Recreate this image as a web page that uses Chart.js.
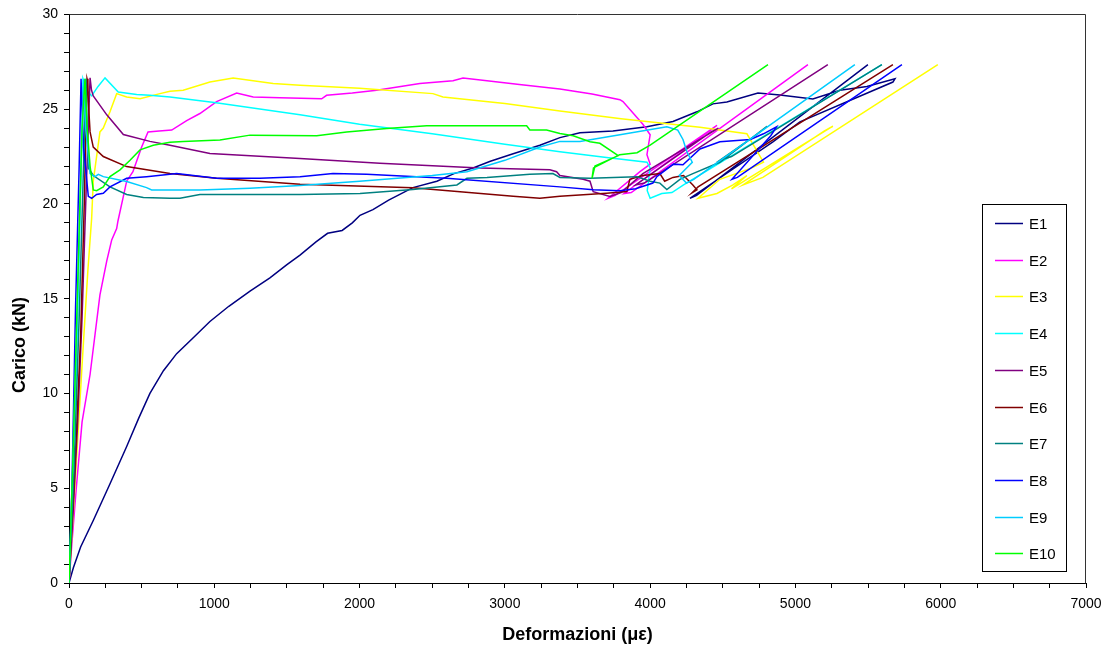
<!DOCTYPE html>
<html lang="it">
<head>
<meta charset="UTF-8" />
<title>Carico - Deformazioni</title>
<style>
  body { margin: 0; background: #fff; }
  canvas { display: block; }
</style>
</head>
<body>
<canvas id="myChart" width="1113" height="652"></canvas>

<script src="https://cdn.jsdelivr.net/npm/chart.js@4.4.0/dist/chart.umd.min.js"></script>
<script>
// series: [deformazione (με), carico (kN)]
var E1 = [[0,0],[30,0.8],[80,1.9],[167,3.3],[280,5.2],[397,7.2],[480,8.7],[557,10.0],[650,11.2],[741,12.1],[850,12.9],[970,13.8],[1100,14.6],[1246,15.4],[1383,16.1],[1500,16.8],[1590,17.3],[1700,18.0],[1780,18.45],[1880,18.6],[1950,19.0],[2003,19.4],[2092,19.7],[2200,20.2],[2367,20.86],[2532,21.2],[2650,21.6],[2781,21.9],[2900,22.25],[3057,22.65],[3241,23.1],[3379,23.5],[3517,23.75],[3744,23.85],[3978,24.07],[4157,24.35],[4322,24.86],[4432,25.28],[4528,25.38],[4742,25.85],[4893,25.75],[5120,25.54],[5306,26.0],[5492,26.2],[5685,26.6],[5671,26.43],[5031,24.33],[4845,23.28],[4274,20.3],[4320,20.45],[5499,27.35]];
var E2 = [[0,0],[18,1.9],[50,5],[90,8.5],[145,11.0],[213,15.2],[260,17.0],[294,18.1],[328,18.7],[337,19.1],[397,21.2],[440,21.7],[500,23.0],[544,23.8],[620,23.85],[707,23.9],[810,24.4],[901,24.77],[1016,25.4],[1154,25.85],[1268,25.64],[1452,25.6],[1739,25.55],[1773,25.73],[1950,25.85],[2118,26.0],[2415,26.35],[2643,26.5],[2712,26.64],[2877,26.5],[3100,26.3],[3379,26.06],[3600,25.8],[3792,25.5],[3813,25.4],[3950,24.2],[4000,23.65],[3978,22.6],[4000,22.1],[3930,21.7],[3710,20.3],[3760,20.45],[4460,24.15],[4420,23.9],[3820,20.55],[3870,20.6],[5086,27.35]];
var E3 = [[0,0],[40,5],[90,11.5],[130,16.5],[156,19.25],[167,21.2],[213,23.8],[236,24.0],[282,24.86],[328,25.82],[397,25.64],[489,25.55],[626,25.82],[695,25.94],[786,26.0],[970,26.43],[1130,26.64],[1405,26.35],[1590,26.26],[2000,26.1],[2505,25.82],[2574,25.64],[3000,25.3],[3379,24.9],[3800,24.5],[4343,24.05],[4666,23.7],[4780,22.2],[4700,21.9],[4480,21.3],[4330,20.3],[4460,20.55],[4570,21.0],[4666,21.5],[4560,20.8],[5258,24.1],[5200,23.85],[4640,21.0],[4776,21.4],[5980,27.35]];
var E4 = [[0,0],[20,4],[50,11],[75,19],[96,26.6],[120,26.0],[156,25.7],[200,26.2],[248,26.65],[339,25.9],[466,25.77],[557,25.73],[695,25.64],[1000,25.35],[1590,24.7],[2000,24.2],[2500,23.7],[3000,23.15],[3379,22.75],[3700,22.45],[3978,22.2],[4000,21.9],[3980,20.7],[4000,20.3],[4080,20.55],[4150,20.6],[4230,21.0],[5595,27.35]];
var E5 = [[0,0],[30,4],[60,8.5],[90,14],[115,20],[135,24.5],[145,26.65],[155,26.0],[167,25.7],[260,24.7],[374,23.66],[557,23.3],[695,23.1],[970,22.66],[1590,22.4],[2139,22.14],[2829,21.9],[3310,21.8],[3356,21.7],[3379,21.5],[3539,21.3],[3586,21.2],[3608,20.65],[3723,20.4],[3800,20.6],[3950,21.6],[4470,24.0],[4420,23.8],[3900,21.0],[3960,21.1],[5223,27.35]];
var E6 = [[0,0],[40,6],[80,13],[105,20],[124,26.6],[130,26.4],[133,25.4],[145,23.8],[167,23.0],[236,22.5],[397,21.97],[695,21.6],[1016,21.35],[1590,21.04],[2367,20.86],[3057,20.4],[3241,20.3],[3379,20.4],[3700,20.56],[3840,20.65],[3860,21.3],[3950,21.5],[4067,21.6],[4100,21.2],[4157,21.4],[4230,21.5],[4294,21.0],[4322,20.75],[4290,20.6],[4330,20.9],[5671,27.35]];
var E7 = [[0,0],[35,6],[70,14],[100,22],[117,26.6],[125,24],[133,21.9],[167,21.5],[282,20.9],[397,20.5],[512,20.34],[695,20.3],[764,20.3],[901,20.5],[1246,20.5],[1590,20.5],[2003,20.55],[2367,20.76],[2670,21.0],[2739,21.35],[2877,21.4],[3172,21.56],[3331,21.6],[3379,21.4],[3586,21.35],[3909,21.44],[4000,21.2],[4067,21.1],[4115,20.76],[4205,21.3],[4294,21.6],[4480,22.2],[4804,24.1],[4740,23.7],[4480,22.3],[4560,22.5],[5595,27.35]];
var E8 = [[0,0],[20,5],[45,14.5],[70,22],[83,26.6],[100,23],[133,20.4],[156,20.3],[190,20.5],[236,20.56],[282,20.9],[397,21.35],[534,21.44],[695,21.56],[741,21.6],[1016,21.35],[1314,21.35],[1590,21.44],[1817,21.6],[2049,21.56],[2599,21.35],[3379,20.9],[3608,20.75],[3792,20.7],[3900,20.8],[4019,21.1],[4046,21.44],[4160,22.1],[4226,22.07],[4343,22.9],[4480,23.28],[4690,23.4],[4780,23.7],[4870,24.07],[4830,23.6],[4563,21.3],[4600,21.4],[5733,27.35]];
var E9 = [[0,0],[25,6],[55,14],[80,21],[103,26.6],[115,24],[145,21.6],[179,21.44],[202,21.56],[236,21.44],[397,21.18],[534,20.86],[569,20.74],[695,20.74],[901,20.74],[1246,20.83],[1590,20.97],[2000,21.2],[2500,21.5],[2739,21.7],[3000,22.3],[3241,23.0],[3379,23.3],[3517,23.3],[3792,23.65],[4115,24.07],[4190,23.9],[4226,23.4],[4253,22.75],[4290,22.2],[4200,21.5],[4250,21.1],[4300,21.3],[5409,27.35]];
var E10 = [[0,0],[25,6],[50,13],[75,20],[90,24],[110,26.6],[125,24],[145,22.0],[167,20.74],[190,20.7],[236,20.9],[282,21.44],[351,21.8],[420,22.3],[489,22.85],[580,23.1],[695,23.25],[786,23.3],[1039,23.37],[1246,23.63],[1705,23.6],[1911,23.8],[2187,23.98],[2462,24.12],[3150,24.12],[3172,23.9],[3287,23.9],[3379,23.72],[3470,23.6],[3586,23.28],[3654,23.2],[3780,22.55],[3620,22.0],[3600,21.35],[3610,21.9],[3790,22.6],[3910,22.7],[4000,23.1],[4811,27.35]];

var seriesNames = ['E1','E2','E3','E4','E5','E6','E7','E8','E9','E10'];
var seriesData = [E1, E2, E3, E4, E5, E6, E7, E8, E9, E10];
var seriesColors = ['#000080','#FF00FF','#FFFF00','#00FFFF','#800080','#800000','#008080','#0000FF','#00CCFF','#00FF00'];

var FONT = "'Liberation Sans', Arial, sans-serif";

window.onload = function () {
  var datasets = [];
  seriesData.forEach(function (pts, i) {
    datasets.push({
      label: seriesNames[i],
      data: pts.map(function (p) { return { x: p[0], y: p[1] }; }),
      borderColor: seriesColors[i],
      backgroundColor: seriesColors[i],
      borderWidth: 1.5,
      pointRadius: 0,
      showLine: true,
      tension: 0,
      order: seriesNames.length - i
    });
  });

  // frame, y title and the boxed legend
  var extras = {
    id: 'extras',
    afterDraw: function (chart) {
      var ctx = chart.ctx;
      var a = chart.chartArea;
      ctx.save();
      ctx.strokeStyle = '#333';
      ctx.lineWidth = 1;
      ctx.beginPath();
      ctx.moveTo(Math.round(a.left) + 0.5, Math.round(a.top) + 0.5);
      ctx.lineTo(Math.round(a.right) - 0.5, Math.round(a.top) + 0.5);
      ctx.lineTo(Math.round(a.right) - 0.5, Math.round(a.bottom) + 0.5);
      ctx.stroke();

      ctx.fillStyle = '#000';
      ctx.font = 'bold 18px ' + FONT;
      ctx.textAlign = 'center';
      ctx.textBaseline = 'middle';
      ctx.translate(20, 345);
      ctx.rotate(-Math.PI / 2);
      ctx.fillText('Carico (kN)', 0, 0);
      ctx.restore();

      ctx.save();
      ctx.fillStyle = '#fff';
      ctx.fillRect(982.5, 204.5, 84, 367);
      ctx.strokeStyle = '#000';
      ctx.lineWidth = 1;
      ctx.strokeRect(982.5, 204.5, 84, 367);
      ctx.font = '15px ' + FONT;
      ctx.textAlign = 'left';
      ctx.textBaseline = 'middle';
      chart.data.datasets.forEach(function (ds, i) {
        var y = Math.round(223 + i * 36.7) + 0.5;
        ctx.strokeStyle = ds.borderColor;
        ctx.lineWidth = 1.5;
        ctx.beginPath();
        ctx.moveTo(995, y);
        ctx.lineTo(1023, y);
        ctx.stroke();
        ctx.fillStyle = '#000';
        ctx.fillText(ds.label, 1029, y + 1);
      });
      ctx.restore();
    }
  };

  var ctx = document.getElementById('myChart');
  new Chart(ctx, {
    type: 'scatter',
    data: { datasets: datasets },
    options: {
      responsive: false,
      animation: false,
      layout: { padding: { left: 0, right: 27, top: 12, bottom: 0 } },
      plugins: { legend: { display: false }, tooltip: { enabled: false } },
      scales: {
        x: {
          type: 'linear',
          min: 0,
          max: 7000,
          ticks: {
            stepSize: 250,
            autoSkip: false,
            maxRotation: 0,
            minRotation: 0,
            padding: 8,
            color: '#000',
            font: { family: FONT, size: 14 },
            callback: function (v) { return v % 1000 === 0 ? String(v) : ''; }
          },
          grid: { drawOnChartArea: false, tickLength: 5, color: '#000' },
          border: { color: '#000', width: 1 },
          title: {
            display: true,
            text: 'Deformazioni (με)',
            color: '#000',
            font: { family: FONT, size: 18, weight: 'bold' },
            padding: { top: 0, bottom: 6 }
          },
          afterFit: function (s) { s.height = 69; }
        },
        y: {
          type: 'linear',
          min: 0,
          max: 30,
          ticks: {
            stepSize: 1,
            autoSkip: false,
            padding: 6,
            color: '#000',
            font: { family: FONT, size: 14 },
            callback: function (v) { return v % 5 === 0 ? String(v) : ''; }
          },
          grid: { drawOnChartArea: false, tickLength: 5, color: '#000' },
          border: { color: '#000', width: 1 },
          afterFit: function (s) { s.width = 69; }
        }
      }
    },
    plugins: [extras]
  });
};
</script>
</body>
</html>
